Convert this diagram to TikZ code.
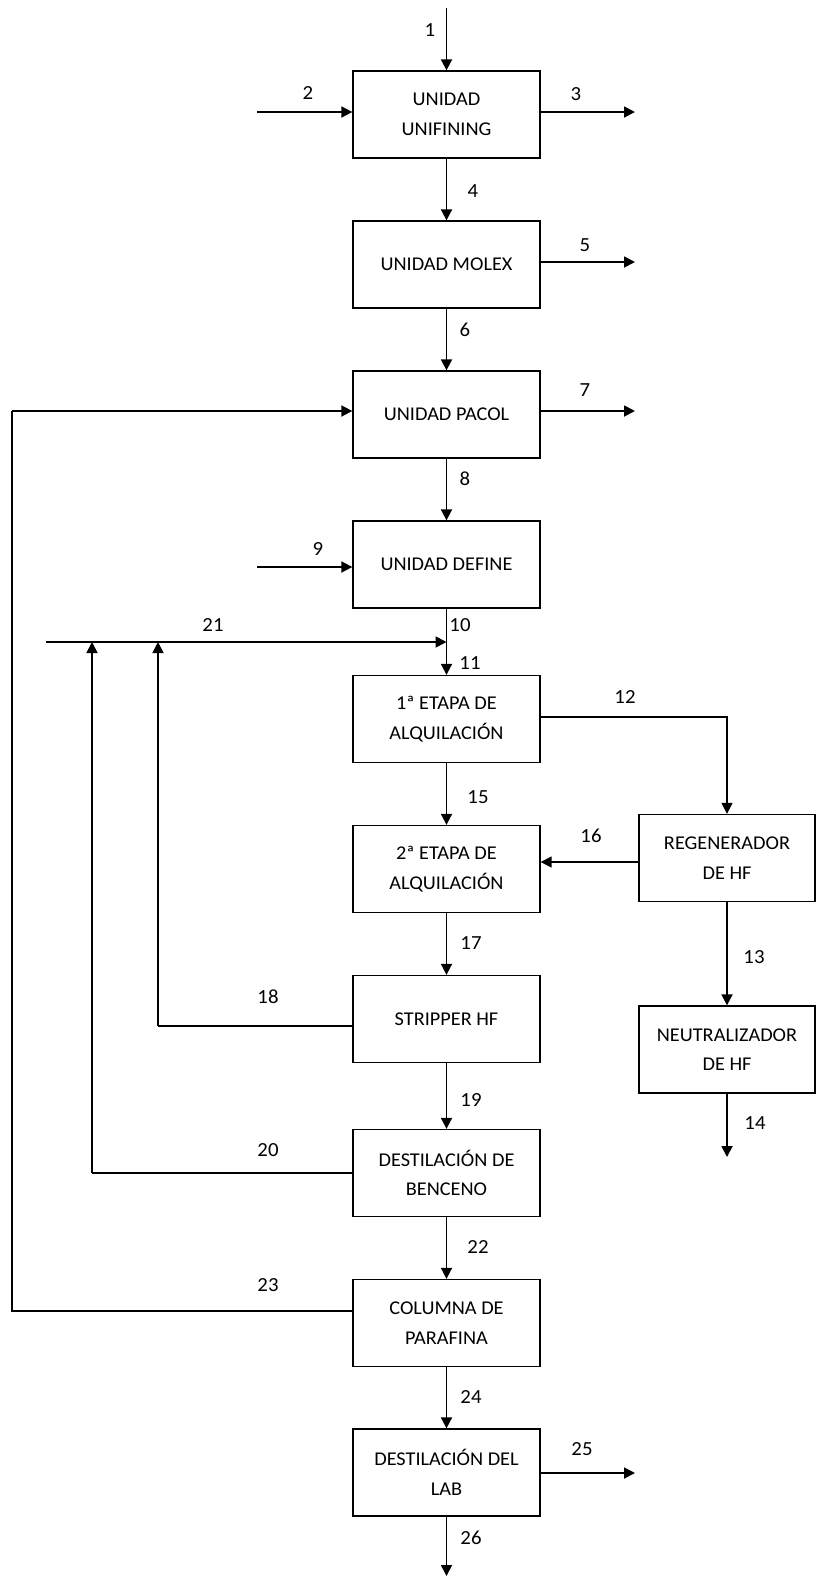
\documentclass[tikz,border=0pt]{standalone}
\usepackage{fontspec}
\setmainfont[FakeStretch=1.04]{Carlito}
\usetikzlibrary{arrows.meta}
\begin{document}
\begin{tikzpicture}[x=1pt,y=-1pt,
 box/.style={draw, line width=1.3pt, minimum width=187pt, minimum height=87pt, align=center, inner sep=0pt, font=\fontsize{19.5}{29.5}\selectfont},
 lbl/.style={inner sep=0pt, font=\fontsize{20}{22}\selectfont},
 flow/.style={line width=1.8pt, -{Triangle[length=11pt,width=11pt]}},
 thinflow/.style={line width=1.4pt, -{Triangle[length=11pt,width=11pt]}},
 pipe/.style={line width=1.3pt},
]
\useasboundingbox (0,0) rectangle (816,1577);
% units
\node[box] (u1) at (446.5,114.5) {UNIDAD\\UNIFINING};
\node[box] (u2) at (446.5,264.5) {UNIDAD MOLEX};
\node[box] (u3) at (446.5,414.5) {UNIDAD PACOL};
\node[box] (u4) at (446.5,564.5) {UNIDAD DEFINE};
\node[box] (a1) at (446.5,719) {1ª ETAPA DE\\ALQUILACIÓN};
\node[box] (a2) at (446.5,869) {2ª ETAPA DE\\ALQUILACIÓN};
\node[box] (st) at (446.5,1019) {STRIPPER HF};
\node[box] (db) at (446.5,1173) {DESTILACIÓN DE\\BENCENO};
\node[box] (cp) at (446.5,1323) {COLUMNA DE\\PARAFINA};
\node[box] (lab) at (446.5,1472.5) {DESTILACIÓN DEL\\LAB};
\node[box, minimum width=176pt] (rg) at (727,858) {REGENERADOR\\DE HF};
\node[box, minimum width=176pt] (nh) at (727,1049.5) {NEUTRALIZADOR\\DE HF};
% free ends and bends
\coordinate (s1) at (446.5,8);
\coordinate (s2) at (257,112);
\coordinate (e3) at (635,112);
\coordinate (e5) at (635,262);
\coordinate (e7) at (635,411);
\coordinate (s9) at (257,567);
\coordinate (j) at (446.5,642);
\coordinate (s21) at (46,642);
\coordinate (m18) at (158,642);
\coordinate (m20) at (92,642);
\coordinate (c18) at (158,1026);
\coordinate (c20) at (92,1173);
\coordinate (c23) at (12,1311);
\coordinate (m23) at (12,411);
\coordinate (c12) at (600,717);
\coordinate (c16) at (600,862);
\coordinate (e14) at (727,1157);
\coordinate (e25) at (635,1473);
\coordinate (e26) at (446.5,1576);
% connectors
\draw[flow] (s1) -- (u1.north);
\draw[flow] (s2) -- (s2 -| u1.west);
\draw[flow] (e3 -| u1.east) -- (e3);
\draw[flow] (u1.south) -- (u2.north);
\draw[flow] (e5 -| u2.east) -- (e5);
\draw[flow] (u2.south) -- (u3.north);
\draw[flow] (e7 -| u3.east) -- (e7);
\draw[flow] (u3.south) -- (u4.north);
\draw[flow] (s9) -- (s9 -| u4.west);
\draw[flow] (u4.south) -- (a1.north);
\draw[flow] (s21) -- (j);
\draw[thinflow] (c12 -| a1.east) -| (rg.north);
\draw[flow] (a1.south) -- (a2.north);
\draw[thinflow] (c16 -| rg.west) -- (c16 -| a2.east);
\draw[flow] (rg.south) -- (nh.north);
\draw[flow] (nh.south) -- (e14);
\draw[flow] (a2.south) -- (st.north);
\draw[pipe] (c18 -| st.west) -- (c18);
\draw[flow] (c18) -- (m18);
\draw[flow] (st.south) -- (db.north);
\draw[pipe] (c20 -| db.west) -- (c20);
\draw[flow] (c20) -- (m20);
\draw[flow] (db.south) -- (cp.north);
\draw[pipe] (c23 -| cp.west) -- (c23) -- (m23);
\draw[flow] (m23) -- (m23 -| u3.west);
\draw[flow] (cp.south) -- (lab.north);
\draw[flow] (e25 -| lab.east) -- (e25);
\draw[flow] (lab.south) -- (e26);
% stream numbers
\node[lbl] (l1) at (430,30) {1};
\node[lbl] (l2) at (308,93) {2};
\node[lbl] (l3) at (576,94) {3};
\node[lbl] (l4) at (473,191) {4};
\node[lbl] (l5) at (585,245) {5};
\node[lbl] (l6) at (465,330) {6};
\node[lbl] (l7) at (585,390) {7};
\node[lbl] (l8) at (465,479) {8};
\node[lbl] (l9) at (318,549) {9};
\node[lbl] (l10) at (460,625) {10};
\node[lbl] (l11) at (470,663) {11};
\node[lbl] (l12) at (625,697) {12};
\node[lbl] (l13) at (754,957) {13};
\node[lbl] (l14) at (755,1123) {14};
\node[lbl] (l15) at (478,797) {15};
\node[lbl] (l16) at (591,836) {16};
\node[lbl] (l17) at (471,943) {17};
\node[lbl] (l18) at (268,997) {18};
\node[lbl] (l19) at (471,1100) {19};
\node[lbl] (l20) at (268,1150) {20};
\node[lbl] (l21) at (213,625) {21};
\node[lbl] (l22) at (478,1247) {22};
\node[lbl] (l23) at (268,1285) {23};
\node[lbl] (l24) at (471,1397) {24};
\node[lbl] (l25) at (582,1449) {25};
\node[lbl] (l26) at (471,1538) {26};
\end{tikzpicture}
\end{document}
